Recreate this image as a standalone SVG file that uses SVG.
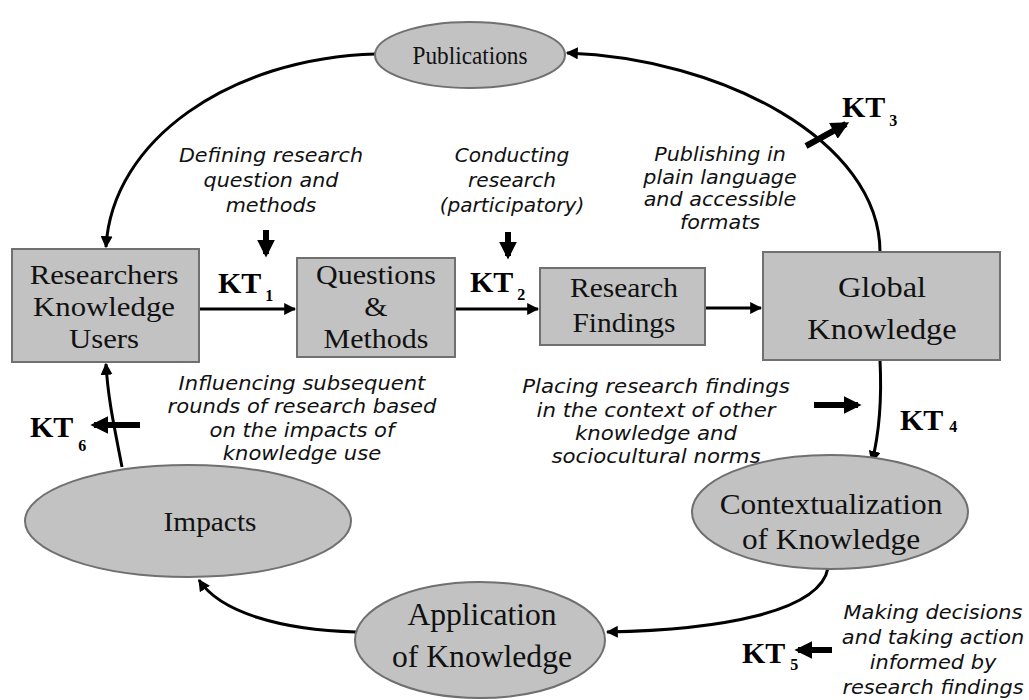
<svg xmlns="http://www.w3.org/2000/svg" width="1029" height="700" viewBox="0 0 1029 700">
<style>
.box{fill:#c2c2c2;stroke:#707070;stroke-width:2}
.ell{fill:#c2c2c2;stroke:#707070;stroke-width:2}
.n{font-family:"Liberation Serif",serif;fill:#111;text-anchor:middle}
.kt{font-family:"Liberation Serif",serif;font-weight:bold;fill:#000}
.sub{font-size:16px}
.it{font-family:"DejaVu Sans",sans-serif;font-style:italic;font-size:19px;fill:#111;text-anchor:middle}
.c{fill:none;stroke:#000;stroke-width:3}
.t{fill:none;stroke:#000;stroke-width:6}
</style>
<defs>
<marker id="ah" viewBox="0 0 10 10" refX="9" refY="5" markerWidth="4" markerHeight="4" orient="auto" markerUnits="strokeWidth"><path d="M0,0 L10,5 L0,10 z" fill="#000"/></marker>
<marker id="ahb" viewBox="0 0 10 10" refX="8" refY="5" markerWidth="3" markerHeight="3" orient="auto" markerUnits="strokeWidth"><path d="M0,0 L10,5 L0,10 z" fill="#000"/></marker>
</defs>
<rect width="1029" height="700" fill="#fff"/>
<g id="connectors">
<line class="c" x1="199" y1="309" x2="295" y2="309" marker-end="url(#ah)"/>
<line class="c" x1="455" y1="309" x2="538" y2="309" marker-end="url(#ah)"/>
<line class="c" x1="705" y1="308" x2="761" y2="308" marker-end="url(#ah)"/>
<path class="c" d="M376,54 C230,58 112,140 106,247" marker-end="url(#ah)"/>
<path class="c" d="M880,252 C880,140 720,58 567,53" marker-end="url(#ah)"/>
<path class="c" d="M880,360 C882,400 880,430 872,462" marker-end="url(#ah)"/>
<path class="c" d="M828,568 C820,612 720,630 607,632" marker-end="url(#ah)"/>
<path class="c" d="M356,632 C280,630 220,612 199,580" marker-end="url(#ah)"/>
<path class="c" d="M122,467 C115,430 108,400 106,364" marker-end="url(#ah)"/>
<line class="t" x1="266" y1="230" x2="266" y2="254" marker-end="url(#ahb)"/>
<line class="t" x1="508" y1="232" x2="508" y2="256" marker-end="url(#ahb)"/>
<line class="t" x1="806" y1="146" x2="846" y2="124" marker-end="url(#ahb)"/>
<line class="t" x1="814" y1="405" x2="858" y2="405" marker-end="url(#ahb)"/>
<line class="t" x1="832" y1="650" x2="798" y2="650" marker-end="url(#ahb)"/>
<line class="t" x1="140" y1="425" x2="94" y2="425" marker-end="url(#ahb)"/>
</g>
<g id="publications"><ellipse class="ell" cx="470" cy="55" rx="95" ry="33"/><text class="n" transform="matrix(0.93 0 0 1 470 0)" x="0" y="64" font-size="25">Publications</text></g>
<g id="researchers"><rect class="box" x="12" y="249" width="187" height="113"/><text class="n" font-size="28" transform="matrix(1.1 0 0 1 104 0)"><tspan x="0" y="284">Researchers</tspan><tspan x="0" y="316">Knowledge</tspan><tspan x="0" y="348">Users</tspan></text></g>
<g id="questions"><rect class="box" x="297" y="258" width="158" height="99"/><text class="n" font-size="28" transform="matrix(1.07 0 0 1 376 0)"><tspan x="0" y="284">Questions</tspan><tspan x="0" y="316">&amp;</tspan><tspan x="0" y="348">Methods</tspan></text></g>
<g id="findings"><rect class="box" x="540" y="268" width="165" height="77"/><text class="n" font-size="27" transform="matrix(1.09 0 0 1 624 0)"><tspan x="0" y="297">Research</tspan><tspan x="0" y="332">Findings</tspan></text></g>
<g id="global"><rect class="box" x="763" y="252" width="237" height="108"/><text class="n" font-size="30" transform="matrix(1.08 0 0 1 882 0)"><tspan x="0" y="297">Global</tspan><tspan x="0" y="339">Knowledge</tspan></text></g>
<g id="context"><ellipse class="ell" cx="830" cy="512" rx="138" ry="57"/><text class="n" font-size="29" transform="matrix(1.08 0 0 1 831 0)"><tspan x="0" y="514">Contextualization</tspan><tspan x="0" y="549">of Knowledge</tspan></text></g>
<g id="application"><ellipse class="ell" cx="480" cy="640" rx="125" ry="58"/><text class="n" font-size="31" transform="matrix(1.02 0 0 1 482 0)"><tspan x="0" y="625">Application</tspan><tspan x="0" y="667">of Knowledge</tspan></text></g>
<g id="impacts"><ellipse class="ell" cx="188" cy="521" rx="163" ry="56"/><text class="n" transform="matrix(1.05 0 0 1 210 0)" x="0" y="531" font-size="28">Impacts</text></g>
<g id="kt-labels">
<text class="kt" x="218" y="293" font-size="30">KT<tspan class="sub" dx="4" dy="8">1</tspan></text>
<text class="kt" x="470" y="292" font-size="30">KT<tspan class="sub" dx="4" dy="8">2</tspan></text>
<text class="kt" x="842" y="117" font-size="30">KT<tspan class="sub" dx="4" dy="9">3</tspan></text>
<text class="kt" x="900" y="430" font-size="30">KT<tspan class="sub" dx="6" dy="2">4</tspan></text>
<text class="kt" x="742" y="663" font-size="30">KT<tspan class="sub" dx="5" dy="7">5</tspan></text>
<text class="kt" x="30" y="437" font-size="30">KT<tspan class="sub" dx="5" dy="14">6</tspan></text>
</g>
<g id="annotations">
<text class="it" transform="matrix(1.09 0 0 1 271 0)"><tspan x="0" y="162">Defining research</tspan><tspan x="0" y="187">question and</tspan><tspan x="0" y="212">methods</tspan></text>
<text class="it" transform="matrix(1.06 0 0 1 512 0)"><tspan x="0" y="162">Conducting</tspan><tspan x="0" y="187">research</tspan><tspan x="0" y="212">(participatory)</tspan></text>
<text class="it" transform="matrix(1.09 0 0 1 720 0)"><tspan x="0" y="161">Publishing in</tspan><tspan x="0" y="184">plain language</tspan><tspan x="0" y="206">and accessible</tspan><tspan x="0" y="229">formats</tspan></text>
<text class="it" transform="matrix(1.11 0 0 1 302 0)"><tspan x="0" y="390">Influencing subsequent</tspan><tspan x="0" y="413">rounds of research based</tspan><tspan x="0" y="437">on the impacts of</tspan><tspan x="0" y="460">knowledge use</tspan></text>
<text class="it" transform="matrix(1.12 0 0 1 656 0)"><tspan x="0" y="393">Placing research findings</tspan><tspan x="0" y="417">in the context of other</tspan><tspan x="0" y="440">knowledge and</tspan><tspan x="0" y="463">sociocultural norms</tspan></text>
<text class="it" transform="matrix(1.1 0 0 1 933 0)"><tspan x="0" y="619">Making decisions</tspan><tspan x="0" y="644">and taking action</tspan><tspan x="0" y="669">informed by</tspan><tspan x="0" y="694">research findings</tspan></text>
</g>
</svg>
